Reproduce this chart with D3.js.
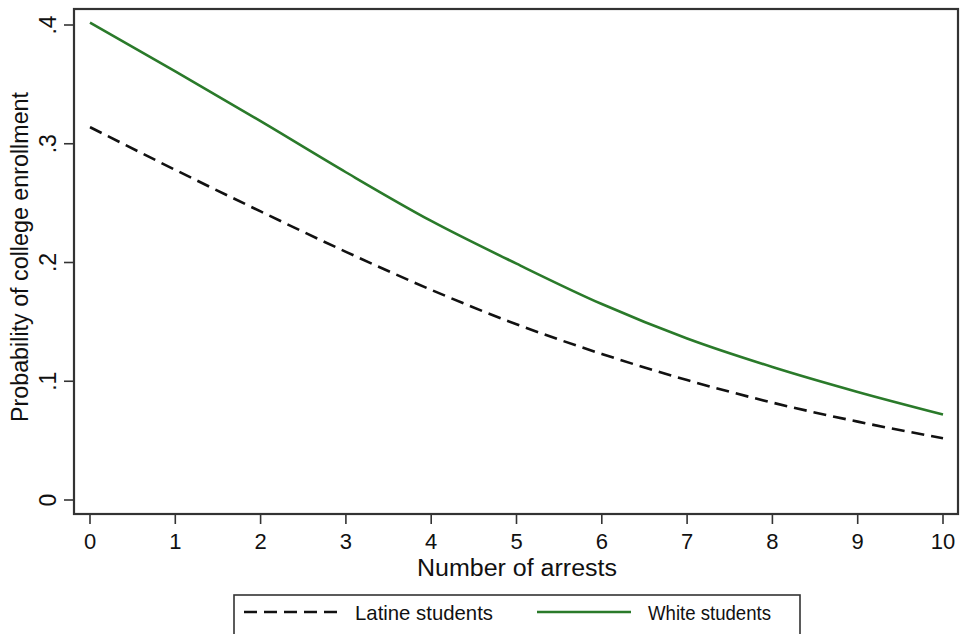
<!DOCTYPE html>
<html>
<head>
<meta charset="utf-8">
<script src="https://cdn.jsdelivr.net/npm/d3@7"></script>
<style>
  html, body { margin: 0; padding: 0; background: #fff; }
  svg { display: block; font-family: "Liberation Sans", Arial, Helvetica, sans-serif; }
</style>
</head>
<body>
<svg id="chart" width="960" height="634"></svg>
<script>
const arrests = [0, 1, 2, 3, 4, 5, 6, 7, 8, 9, 10];
const latine = [0.314, 0.278, 0.243, 0.209, 0.177, 0.148, 0.123, 0.101, 0.082, 0.066, 0.052];
const white = [0.402, 0.361, 0.319, 0.276, 0.235, 0.199, 0.165, 0.136, 0.112, 0.091, 0.072];
const yTicks = [0, 0.1, 0.2, 0.3, 0.4];
const yTickLabels = ["0", ".1", ".2", ".3", ".4"];
const xTicks = [0, 1, 2, 3, 4, 5, 6, 7, 8, 9, 10];
const seriesNames = ["Latine students", "White students"];

const svg = d3.select("#chart");
const W = 960, H = 634;
svg.append("rect").attr("width", W).attr("height", H).attr("fill", "#fff");

const frame = { left: 74, right: 958, top: 9, bottom: 514 };
const x = d3.scaleLinear().domain([0, 10]).range([90, 943]);
const y = d3.scaleLinear().domain([0, 0.4]).range([500, 25]);

// y ticks
svg.append("g").selectAll("line").data(yTicks).join("line")
  .attr("x1", 64).attr("x2", frame.left)
  .attr("y1", d => y(d)).attr("y2", d => y(d))
  .attr("stroke", "#333").attr("stroke-width", 1.6);
svg.append("g").selectAll("text").data(yTicks).join("text")
  .attr("transform", d => `translate(56,${y(d)}) rotate(-90)`)
  .attr("text-anchor", "middle")
  .attr("font-size", 23)
  .attr("fill", "#111")
  .text((d, i) => yTickLabels[i]);

// x ticks
svg.append("g").selectAll("line").data(xTicks).join("line")
  .attr("x1", d => x(d)).attr("x2", d => x(d))
  .attr("y1", frame.bottom).attr("y2", 524)
  .attr("stroke", "#333").attr("stroke-width", 1.6);
svg.append("g").selectAll("text").data(xTicks).join("text")
  .attr("x", d => x(d)).attr("y", 549)
  .attr("text-anchor", "middle")
  .attr("font-size", 22)
  .attr("fill", "#111")
  .text(d => d);

// axis titles
svg.append("text")
  .attr("x", 517).attr("y", 576)
  .attr("text-anchor", "middle")
  .attr("font-size", 23)
  .attr("fill", "#111")
  .attr("textLength", 200).attr("lengthAdjust", "spacingAndGlyphs")
  .text("Number of arrests");
svg.append("text")
  .attr("transform", "translate(28,257) rotate(-90)")
  .attr("text-anchor", "middle")
  .attr("font-size", 23)
  .attr("fill", "#111")
  .attr("textLength", 330).attr("lengthAdjust", "spacingAndGlyphs")
  .text("Probability of college enrollment");

// lines
const line = d3.line()
  .x((d, i) => x(arrests[i]))
  .y(d => y(d))
  .curve(d3.curveMonotoneX);

svg.append("path").datum(latine)
  .attr("d", line)
  .attr("fill", "none")
  .attr("stroke", "#111")
  .attr("stroke-width", 2.6)
  .attr("stroke-dasharray", "13,7");

svg.append("path").datum(white)
  .attr("d", line)
  .attr("fill", "none")
  .attr("stroke", "#2a7a2a")
  .attr("stroke-width", 2.6);

// frame
svg.append("rect")
  .attr("x", frame.left).attr("y", frame.top)
  .attr("width", frame.right - frame.left).attr("height", frame.bottom - frame.top)
  .attr("fill", "none").attr("stroke", "#333").attr("stroke-width", 2.2);

// legend
const lg = svg.append("g");
lg.append("rect")
  .attr("x", 234).attr("y", 595).attr("width", 566).attr("height", 60)
  .attr("fill", "#fff").attr("stroke", "#333").attr("stroke-width", 1.6);
lg.append("line")
  .attr("x1", 244).attr("x2", 342).attr("y1", 612).attr("y2", 612)
  .attr("stroke", "#111").attr("stroke-width", 2.6).attr("stroke-dasharray", "13,7");
lg.append("text")
  .attr("x", 355).attr("y", 620)
  .attr("font-size", 21).attr("fill", "#111")
  .attr("textLength", 138).attr("lengthAdjust", "spacingAndGlyphs")
  .text(seriesNames[0]);
lg.append("line")
  .attr("x1", 537).attr("x2", 631).attr("y1", 612).attr("y2", 612)
  .attr("stroke", "#2a7a2a").attr("stroke-width", 2.6);
lg.append("text")
  .attr("x", 648).attr("y", 620)
  .attr("font-size", 21).attr("fill", "#111")
  .attr("textLength", 123).attr("lengthAdjust", "spacingAndGlyphs")
  .text(seriesNames[1]);
</script>
</body>
</html>
